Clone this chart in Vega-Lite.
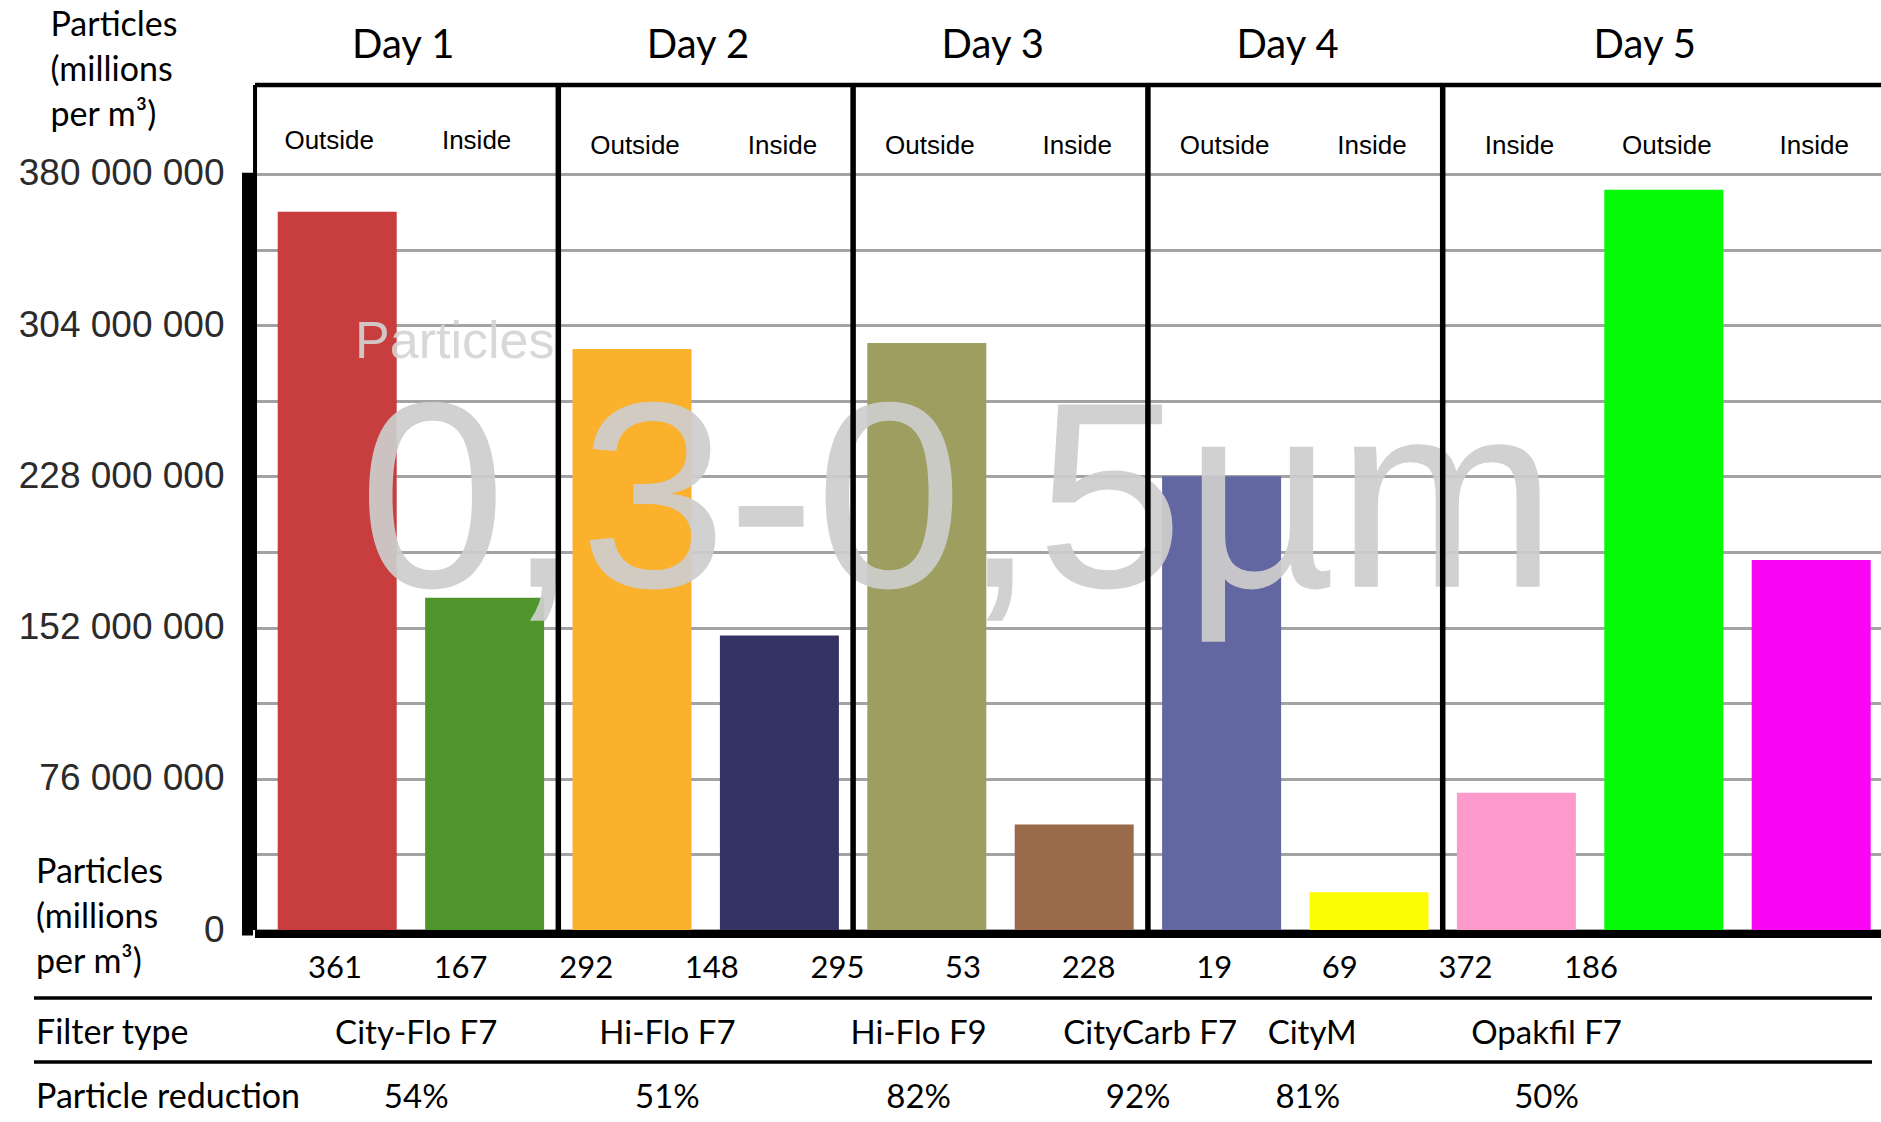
{
  "$schema": "https://vega.github.io/schema/vega-lite/v6.json",
  "width": 1626,
  "height": 845,
  "autosize": {"type": "none"},
  "padding": {"left": 255, "top": 85, "right": 0, "bottom": 192},
  "background": "white",
  "config": {"view": {"stroke": null}},
  "datasets": {
    "samples": [
      {"sample": "D1 Outside", "day": "Day 1", "location": "Outside", "particles": 361},
      {"sample": "D1 Inside", "day": "Day 1", "location": "Inside", "particles": 167, "filter": "City-Flo F7", "reduction": 0.54},
      {"sample": "D2 Outside", "day": "Day 2", "location": "Outside", "particles": 292},
      {"sample": "D2 Inside", "day": "Day 2", "location": "Inside", "particles": 148, "filter": "Hi-Flo F7", "reduction": 0.51},
      {"sample": "D3 Outside", "day": "Day 3", "location": "Outside", "particles": 295},
      {"sample": "D3 Inside", "day": "Day 3", "location": "Inside", "particles": 53, "filter": "Hi-Flo F9", "reduction": 0.82},
      {"sample": "D4 Outside", "day": "Day 4", "location": "Outside", "particles": 228},
      {"sample": "D4 Inside", "day": "Day 4", "location": "Inside", "particles": 19, "filter": "CityCarb F7", "reduction": 0.92},
      {"sample": "D5 Inside CityM", "day": "Day 5", "location": "Inside", "particles": 69, "filter": "CityM", "reduction": 0.81},
      {"sample": "D5 Outside", "day": "Day 5", "location": "Outside", "particles": 372},
      {"sample": "D5 Inside Opakfil", "day": "Day 5", "location": "Inside", "particles": 186, "filter": "Opakfil F7", "reduction": 0.50}
    ],
    "blank": [{}]
  },
  "layer": [
    {
      "layer": [
        {
          "data": {"name": "samples"},
          "mark": {"type": "bar"},
          "encoding": {
            "x": {
              "field": "sample", "type": "nominal", "sort": null,
              "scale": {
                "domain": ["D1 Outside", "D1 Inside", "D2 Outside", "D2 Inside", "D3 Outside", "D3 Inside", "D4 Outside", "D4 Inside", "D5 Inside CityM", "D5 Outside", "D5 Inside Opakfil"],
                "paddingInner": 0.1927, "paddingOuter": 0.112, "align": 0.688, "round": false
              },
              "axis": null
            },
            "y": {
              "field": "particles", "type": "quantitative",
              "scale": {"domain": [0, 424.7], "nice": false, "zero": true},
              "axis": {
                "values": [0, 38, 76, 114, 152, 190, 228, 266, 304, 342, 380],
                "labelExpr": "datum.value % 76 == 0 ? replace(replace(format(datum.value * 1000000, ','), ',', ' '), ',', ' ') : ''",
                "domain": false, "ticks": false, "labelPadding": 31, "labelLimit": 0,
                "labelFont": "Liberation Sans", "labelFontSize": 37, "labelColor": "#2b2b2b", "labelOverlap": false,
                "grid": true, "gridColor": "#a3a3a3", "gridWidth": 3,
                "title": ["Particles", "(millions", "per m³)"],
                "titleAngle": 0, "titleAlign": "left", "titleBaseline": "alphabetic",
                "titleX": -205, "titleY": -50, "titleFont": "Lato", "titleFontSize": 34,
                "titleFontWeight": "normal", "titleColor": "black", "titleLineHeight": 45
              }
            },
            "color": {
              "field": "sample", "type": "nominal",
              "scale": {
                "domain": ["D1 Outside", "D1 Inside", "D2 Outside", "D2 Inside", "D3 Outside", "D3 Inside", "D4 Outside", "D4 Inside", "D5 Inside CityM", "D5 Outside", "D5 Inside Opakfil"],
                "range": ["#c83e3e", "#4e962c", "#fbb12b", "#343363", "#9e9e60", "#996b4a", "#6266a1", "#fcfc04", "#fe9acb", "#05fb05", "#fb06f5"]
              },
              "legend": null
            }
          }
        },
        {
          "data": {"name": "blank"},
          "mark": {"type": "text", "text": "Particles", "font": "Liberation Sans", "fontSize": 52, "align": "left", "baseline": "alphabetic", "color": "#d4d4d4", "opacity": 0.9},
          "encoding": {
            "x": {"datum": "D1 Outside", "type": "nominal", "bandPosition": 0.65, "axis": null},
            "y": {"datum": 287.5, "type": "quantitative"}
          }
        },
        {
          "data": {"name": "blank"},
          "mark": {"type": "text", "text": "0,3-0,5µm", "font": "Liberation Sans", "fontSize": 265, "align": "left", "baseline": "alphabetic", "color": "#cecece", "opacity": 0.92},
          "encoding": {
            "x": {"datum": "D1 Outside", "type": "nominal", "bandPosition": 0.68, "axis": null},
            "y": {"datum": 172.5, "type": "quantitative"}
          }
        },
        {
          "data": {"name": "samples"},
          "transform": [{"filter": {"field": "sample", "oneOf": ["D2 Outside", "D3 Outside", "D4 Outside", "D5 Inside CityM"]}}],
          "mark": {"type": "rule", "color": "black", "strokeWidth": 5.5, "xOffset": -14.2},
          "encoding": {
            "x": {"field": "sample", "type": "nominal", "bandPosition": 0, "axis": null}
          }
        },
        {
          "data": {"name": "blank"},
          "mark": {"type": "rule", "color": "black", "strokeWidth": 4, "xOffset": -22.7},
          "encoding": {
            "x": {"datum": "D1 Outside", "type": "nominal", "bandPosition": 0, "axis": null}
          }
        },
        {
          "data": {"name": "blank"},
          "mark": {"type": "rule", "color": "black", "strokeWidth": 4.5},
          "encoding": {
            "y": {"datum": 424.7, "type": "quantitative"}
          }
        },
        {
          "data": {"name": "blank"},
          "mark": {"type": "rule", "color": "black", "strokeWidth": 11, "strokeCap": "square", "xOffset": -30.2},
          "encoding": {
            "x": {"datum": "D1 Outside", "type": "nominal", "bandPosition": 0, "axis": null},
            "y": {"datum": 0, "type": "quantitative"},
            "y2": {"datum": 377.8}
          }
        },
        {
          "data": {"name": "blank"},
          "mark": {"type": "rule", "color": "black", "strokeWidth": 8, "yOffset": 4},
          "encoding": {
            "y": {"datum": 0, "type": "quantitative"}
          }
        },
        {
          "data": {"name": "samples"},
          "transform": [{"filter": "datum.day == 'Day 1'"}],
          "mark": {"type": "text", "font": "Liberation Sans", "fontSize": 26, "align": "center", "baseline": "alphabetic", "color": "black", "xOffset": -8},
          "encoding": {
            "x": {"field": "sample", "type": "nominal", "axis": null},
            "y": {"datum": 392.3, "type": "quantitative"},
            "text": {"field": "location"}
          }
        },
        {
          "data": {"name": "samples"},
          "transform": [{"filter": "datum.day != 'Day 1'"}],
          "mark": {"type": "text", "font": "Liberation Sans", "fontSize": 26, "align": "center", "baseline": "alphabetic", "color": "black", "xOffset": 3},
          "encoding": {
            "x": {"field": "sample", "type": "nominal", "axis": null},
            "y": {"datum": 390.0, "type": "quantitative"},
            "text": {"field": "location"}
          }
        },
        {
          "data": {"name": "samples"},
          "transform": [{"filter": "datum.location == 'Outside' && datum.day != 'Day 5'"}],
          "mark": {"type": "text", "font": "Lato", "fontSize": 40, "align": "center", "baseline": "alphabetic", "color": "black", "xOffset": 66},
          "encoding": {
            "x": {"field": "sample", "type": "nominal", "axis": null},
            "y": {"datum": 438.5, "type": "quantitative"},
            "text": {"field": "day"}
          }
        },
        {
          "data": {"name": "samples"},
          "transform": [{"filter": "datum.location == 'Outside' && datum.day == 'Day 5'"}],
          "mark": {"type": "text", "font": "Lato", "fontSize": 40, "align": "center", "baseline": "alphabetic", "color": "black", "xOffset": -19},
          "encoding": {
            "x": {"field": "sample", "type": "nominal", "axis": null},
            "y": {"datum": 438.5, "type": "quantitative"},
            "text": {"field": "day"}
          }
        },
        {
          "data": {"name": "blank"},
          "mark": {"type": "text", "text": ["Particles", "(millions", "per m³)"], "font": "Lato", "fontSize": 34, "lineHeight": 45, "align": "left", "baseline": "alphabetic", "color": "black", "xOffset": -241.7},
          "encoding": {
            "x": {"datum": "D1 Outside", "type": "nominal", "bandPosition": 0, "axis": null},
            "y": {"datum": 23.6, "type": "quantitative"}
          }
        },
        {
          "data": {"name": "blank"},
          "mark": {"type": "text", "text": "Filter type", "font": "Lato", "fontSize": 34, "align": "left", "baseline": "alphabetic", "color": "black", "xOffset": -241.7},
          "encoding": {
            "x": {"datum": "D1 Outside", "type": "nominal", "bandPosition": 0, "axis": null},
            "y": {"datum": -57.3, "type": "quantitative"}
          }
        },
        {
          "data": {"name": "blank"},
          "mark": {"type": "text", "text": "Particle reduction", "font": "Lato", "fontSize": 34, "align": "left", "baseline": "alphabetic", "color": "black", "xOffset": -241.7},
          "encoding": {
            "x": {"datum": "D1 Outside", "type": "nominal", "bandPosition": 0, "axis": null},
            "y": {"datum": -89.5, "type": "quantitative"}
          }
        },
        {
          "data": {"name": "blank"},
          "mark": {"type": "rule", "color": "black", "strokeWidth": 3.5, "xOffset": -243.7, "x2Offset": 1.3},
          "encoding": {
            "x": {"datum": "D1 Outside", "type": "nominal", "bandPosition": 0, "axis": null},
            "x2": {"datum": "D5 Inside Opakfil", "bandPosition": 1},
            "y": {"datum": -34.2, "type": "quantitative"}
          }
        },
        {
          "data": {"name": "blank"},
          "mark": {"type": "rule", "color": "black", "strokeWidth": 3.5, "xOffset": -243.7, "x2Offset": 1.3},
          "encoding": {
            "x": {"datum": "D1 Outside", "type": "nominal", "bandPosition": 0, "axis": null},
            "x2": {"datum": "D5 Inside Opakfil", "bandPosition": 1},
            "y": {"datum": -66.4, "type": "quantitative"}
          }
        }
      ]
    },
    {
      "layer": [
        {
          "data": {"name": "samples"},
          "mark": {"type": "text", "font": "Lato", "fontSize": 31, "align": "center", "baseline": "alphabetic", "color": "black"},
          "encoding": {
            "x": {
              "field": "sample", "type": "nominal", "sort": null,
              "scale": {
                "domain": ["D1 Outside", "D1 Inside", "D2 Outside", "D2 Inside", "D3 Outside", "D3 Inside", "D4 Outside", "D4 Inside", "D5 Inside CityM", "D5 Outside", "D5 Inside Opakfil"],
                "type": "band", "paddingInner": 0, "paddingOuter": 0.973, "align": 0.0704, "round": false
              },
              "axis": null
            },
            "y": {"datum": -24.1, "type": "quantitative"},
            "text": {"field": "particles", "type": "quantitative", "format": "d"}
          }
        },
        {
          "data": {"name": "samples"},
          "transform": [{"filter": {"field": "filter", "oneOf": ["City-Flo F7", "Hi-Flo F7", "Hi-Flo F9", "Opakfil F7"]}}],
          "mark": {"type": "text", "font": "Lato", "fontSize": 33, "align": "center", "baseline": "alphabetic", "color": "black", "xOffset": -44.4},
          "encoding": {
            "x": {"field": "sample", "type": "nominal", "axis": null},
            "y": {"datum": -57.3, "type": "quantitative"},
            "text": {"field": "filter"}
          }
        },
        {
          "data": {"name": "samples"},
          "transform": [{"filter": "datum.filter == 'CityCarb F7'"}],
          "mark": {"type": "text", "font": "Lato", "fontSize": 33, "align": "center", "baseline": "alphabetic", "color": "black", "xOffset": -64},
          "encoding": {
            "x": {"field": "sample", "type": "nominal", "axis": null},
            "y": {"datum": -57.3, "type": "quantitative"},
            "text": {"field": "filter"}
          }
        },
        {
          "data": {"name": "samples"},
          "transform": [{"filter": "datum.filter == 'CityM'"}],
          "mark": {"type": "text", "font": "Lato", "fontSize": 33, "align": "center", "baseline": "alphabetic", "color": "black", "xOffset": -27.6},
          "encoding": {
            "x": {"field": "sample", "type": "nominal", "axis": null},
            "y": {"datum": -57.3, "type": "quantitative"},
            "text": {"field": "filter"}
          }
        },
        {
          "data": {"name": "samples"},
          "transform": [{"filter": {"field": "filter", "oneOf": ["City-Flo F7", "Hi-Flo F7", "Hi-Flo F9", "Opakfil F7"]}}],
          "mark": {"type": "text", "font": "Lato", "fontSize": 33, "align": "center", "baseline": "alphabetic", "color": "black", "xOffset": -44.4},
          "encoding": {
            "x": {"field": "sample", "type": "nominal", "axis": null},
            "y": {"datum": -89.5, "type": "quantitative"},
            "text": {"field": "reduction", "type": "quantitative", "format": ".0%"}
          }
        },
        {
          "data": {"name": "samples"},
          "transform": [{"filter": "datum.filter == 'CityCarb F7'"}],
          "mark": {"type": "text", "font": "Lato", "fontSize": 33, "align": "center", "baseline": "alphabetic", "color": "black", "xOffset": -76},
          "encoding": {
            "x": {"field": "sample", "type": "nominal", "axis": null},
            "y": {"datum": -89.5, "type": "quantitative"},
            "text": {"field": "reduction", "type": "quantitative", "format": ".0%"}
          }
        },
        {
          "data": {"name": "samples"},
          "transform": [{"filter": "datum.filter == 'CityM'"}],
          "mark": {"type": "text", "font": "Lato", "fontSize": 33, "align": "center", "baseline": "alphabetic", "color": "black", "xOffset": -32},
          "encoding": {
            "x": {"field": "sample", "type": "nominal", "axis": null},
            "y": {"datum": -89.5, "type": "quantitative"},
            "text": {"field": "reduction", "type": "quantitative", "format": ".0%"}
          }
        }
      ]
    }
  ],
  "resolve": {"scale": {"x": "independent"}}
}
